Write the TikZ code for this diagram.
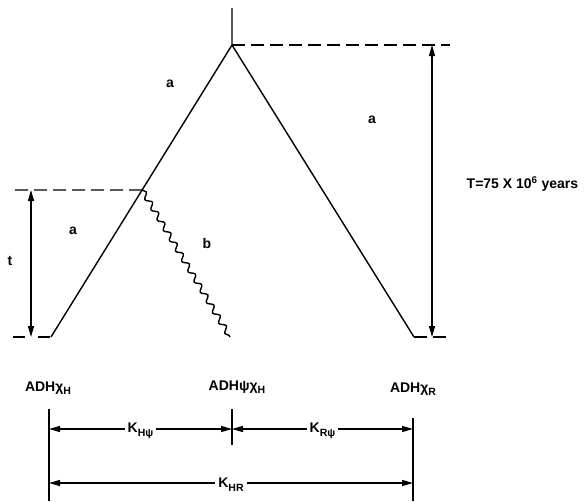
\documentclass[tikz,border=0pt]{standalone}
\usepackage{fontspec}
\setmainfont{Liberation Sans}
\usetikzlibrary{arrows.meta,calc,decorations.pathmorphing}
\newcommand{\lowsub}[1]{\raisebox{-0.5ex}{\fontsize{10.5}{11}\selectfont #1}}

\begin{document}
\begin{tikzpicture}[x=1pt,y=-1pt,line width=1.4pt,>={Triangle[length=11pt,width=6pt]},
  lbl/.style={font=\fontsize{14}{16}\selectfont\bfseries,inner sep=1pt},
  cut/.style={lbl,fill=white,inner sep=3pt,yshift=-2pt},
  guide/.style={dash pattern=on 13pt off 6pt},
  wave/.style={decorate,decoration={snake,segment length=12pt,amplitude=2.6pt}},
  bar/.style={line width=1.2pt}]
  \useasboundingbox (0,0) rectangle (584,501);
  % tree
  \coordinate (TOP) at (232,8);
  \coordinate (A) at (232,45);
  \coordinate (H) at (51,337);
  \coordinate (R) at (414,337);
  \coordinate (S) at ($(A)!0.4966!(H)$);
  \coordinate (P) at (230,337);
  \draw (TOP) -- (A) -- (H);
  \draw (A) -- (R);
  \draw[wave] (S) -- (P);
  % time marks
  \coordinate (TA) at (450,45);
  \coordinate (TR) at (450,337);
  \coordinate (tS) at (12,190);
  \coordinate (tH) at (13,337);
  \draw[guide] (A) -- (TA);
  \draw[guide] (R) -- (TR);
  \draw[guide] (S) -- (tS);
  \draw[dash pattern=on 12pt off 13pt] (tH) -- (H);
  \coordinate (T1) at (432,45);
  \coordinate (T2) at (432,337);
  \coordinate (t1) at (31,190);
  \coordinate (t2) at (31,337);
  \draw[<->] (T1) -- (T2);
  \draw[<->] (t1) -- (t2);
  \node[lbl,anchor=west] (Tlab) at (465,184) {T=75 X 10\textsuperscript{6} years};
  \node[lbl] (tlab) at (10,261) {t};
  \node[lbl] (a1) at (170,84) {a};
  \node[lbl] (a2) at (372,120) {a};
  \node[lbl] (a3) at (73,231) {a};
  \node[lbl] (b1) at (207,243) {b};
  % genes
  \node[lbl,anchor=base] (gH) at (48,391) {ADHχ\lowsub{H}};
  \node[lbl,anchor=base] (gP) at (237,390) {ADHψχ\lowsub{H}};
  \node[lbl,anchor=base] (gR) at (413,392) {ADHχ\lowsub{R}};
  % distances
  \coordinate (LB1) at (49,409);
  \coordinate (LB2) at (49,501);
  \coordinate (MB1) at (232,409);
  \coordinate (MB2) at (232,445);
  \coordinate (RB1) at (413,418);
  \coordinate (RB2) at (413,501);
  \draw[bar] (LB1) -- (LB2);
  \draw[bar] (MB1) -- (MB2);
  \draw[bar] (RB1) -- (RB2);
  \draw[<->] (LB1 |- 0,429) -- (MB1 |- 0,429) node[midway,cut] (kH) {K\lowsub{Hψ}};
  \draw[<->] (MB1 |- 0,429) -- (RB1 |- 0,429) node[midway,cut] (kR) {K\lowsub{Rψ}};
  \draw[<->] (LB1 |- 0,483) -- (RB1 |- 0,483) node[midway,cut] (kHR) {K\lowsub{HR}};
\end{tikzpicture}
\end{document}
